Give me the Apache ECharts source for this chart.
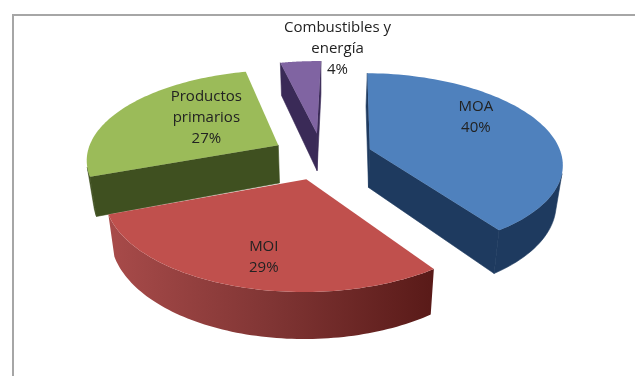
<!DOCTYPE html>
<html>
<head>
<meta charset="utf-8">
<script src="https://cdn.jsdelivr.net/npm/echarts@6/dist/echarts.min.js"></script>
<style>
html,body{margin:0;padding:0;background:#fff}
#c{width:635px;height:376px;filter:blur(0.7px)}
</style>
</head>
<body>
<div id="c"></div>
<script>
const categories = ["MOA", "MOI", "Productos\nprimarios", "Combustibles y\nenergía"];
const values = [40, 29, 27, 4];

const topColors = ["#4f81bd", "#c0504d", "#9bbb59", "#8064a2"];
const wallColors = ["#1e3a5f", null, "#3f5020", "#3a2a57"];
const redWall = ["#a84b4a", "#803534", "#591a18"];
const labelPolar = [[57, 0.72], [194, 0.75], [309.3, 0.531], [6, 1.2]];

const CX = 322, CY = 156, R = 192, K = 89, P = 0.145, START = 1.2;
const EXPLODE = 0.263, DEPTH = 38.5, BOTTOM_X = 0.972;
const total = values.reduce((a, b) => a + b, 0);
const rad = d => d * Math.PI / 180;

function project(X, Y, low) {
  const den = 1 - P * Y;
  const s = low ? BOTTOM_X : 1;
  return [CX + s * R * X / den, CY + (K * Y + (low ? DEPTH : 0)) / den];
}
function shoelace(pts) {
  let a = 0;
  for (let i = 0; i < pts.length; i++) {
    const p = pts[i], q = pts[(i + 1) % pts.length];
    a += p[0] * q[1] - q[0] * p[1];
  }
  return a;
}

function renderItem(params, api) {
  const i = params.dataIndex;
  const val = api.value(0), before = api.value(1);
  const a0 = START + before / total * 360, a1 = START + (before + val) / total * 360, mid = (a0 + a1) / 2;
  const ox = EXPLODE * Math.sin(rad(mid)), oy = -EXPLODE * Math.cos(rad(mid));
  const disk = (deg, r) => [ox + r * Math.sin(rad(deg)), oy - r * Math.cos(rad(deg))];
  const z = Math.round((1 - Math.cos(rad(mid))) * 10) + 1;

  const N = 80, arc = [];
  for (let s = 0; s <= N; s++) arc.push(disk(a0 + (a1 - a0) * s / N, 1));
  const apex = [ox, oy];
  const up = d => project(d[0], d[1], false), dn = d => project(d[0], d[1], true);
  const wall = i === 1
    ? new echarts.graphic.LinearGradient(0, 0, 1, 0, [
        { offset: 0, color: redWall[0] }, { offset: 0.5, color: redWall[1] }, { offset: 1, color: redWall[2] }])
    : wallColors[i];
  const flat = i === 1 ? redWall[2] : wallColors[i];
  const children = [];
  const poly = (pts, fill, z2) => children.push({
    type: 'polygon', z2, shape: { points: pts },
    style: { fill, stroke: typeof fill === 'string' ? fill : null, lineWidth: typeof fill === 'string' ? 0.6 : 0 }
  });

  [[apex, arc[0]], [arc[N], apex]].forEach(e => {
    const q = [up(e[0]), up(e[1]), dn(e[1]), dn(e[0])];
    if (shoelace(q) < 0) poly(q, flat, z);
  });
  let run = [];
  const flush = () => {
    if (run.length > 1) poly(run.map(up).concat(run.slice().reverse().map(dn)), wall, z + 1);
    run = [];
  };
  for (let s = 0; s < N; s++) {
    const q = [up(arc[s]), up(arc[s + 1]), dn(arc[s + 1]), dn(arc[s])];
    if (shoelace(q) < 0) { if (!run.length) run.push(arc[s]); run.push(arc[s + 1]); }
    else flush();
  }
  flush();
  const topPts = [apex].concat(arc).map(up);
  children.push({ type: 'polygon', z2: z + 2, shape: { points: topPts }, style: { fill: topColors[i] } });

  const lp = disk(labelPolar[i][0], labelPolar[i][1]);
  const t = project(lp[0], lp[1], false);
  children.push({
    type: 'text', z2: 100, x: t[0], y: t[1],
    style: {
      text: api.value(2) + '\n' + val + '%', align: 'center', verticalAlign: 'middle',
      fontFamily: 'Open Sans', fontSize: 15, lineHeight: 21, fill: '#222222'
    }
  });
  return { type: 'group', children };
}

let acc = 0;
const rows = values.map((v, i) => { const r = [v, acc, categories[i]]; acc += v; return r; });

const chart = echarts.init(document.getElementById('c'), null, { renderer: 'canvas' });
chart.setOption({
  animation: false,
  backgroundColor: '#ffffff',
  graphic: [
    { type: 'rect', shape: { x: 12, y: 14, width: 623, height: 2 }, style: { fill: '#a6a6a6' } },
    { type: 'rect', shape: { x: 12, y: 14, width: 2, height: 362 }, style: { fill: '#a6a6a6' } }
  ],
  series: [{
    type: 'custom', coordinateSystem: 'none', renderItem,
    dimensions: ['value', 'before', 'name'],
    data: rows, silent: true
  }]
});
</script>
</body>
</html>
